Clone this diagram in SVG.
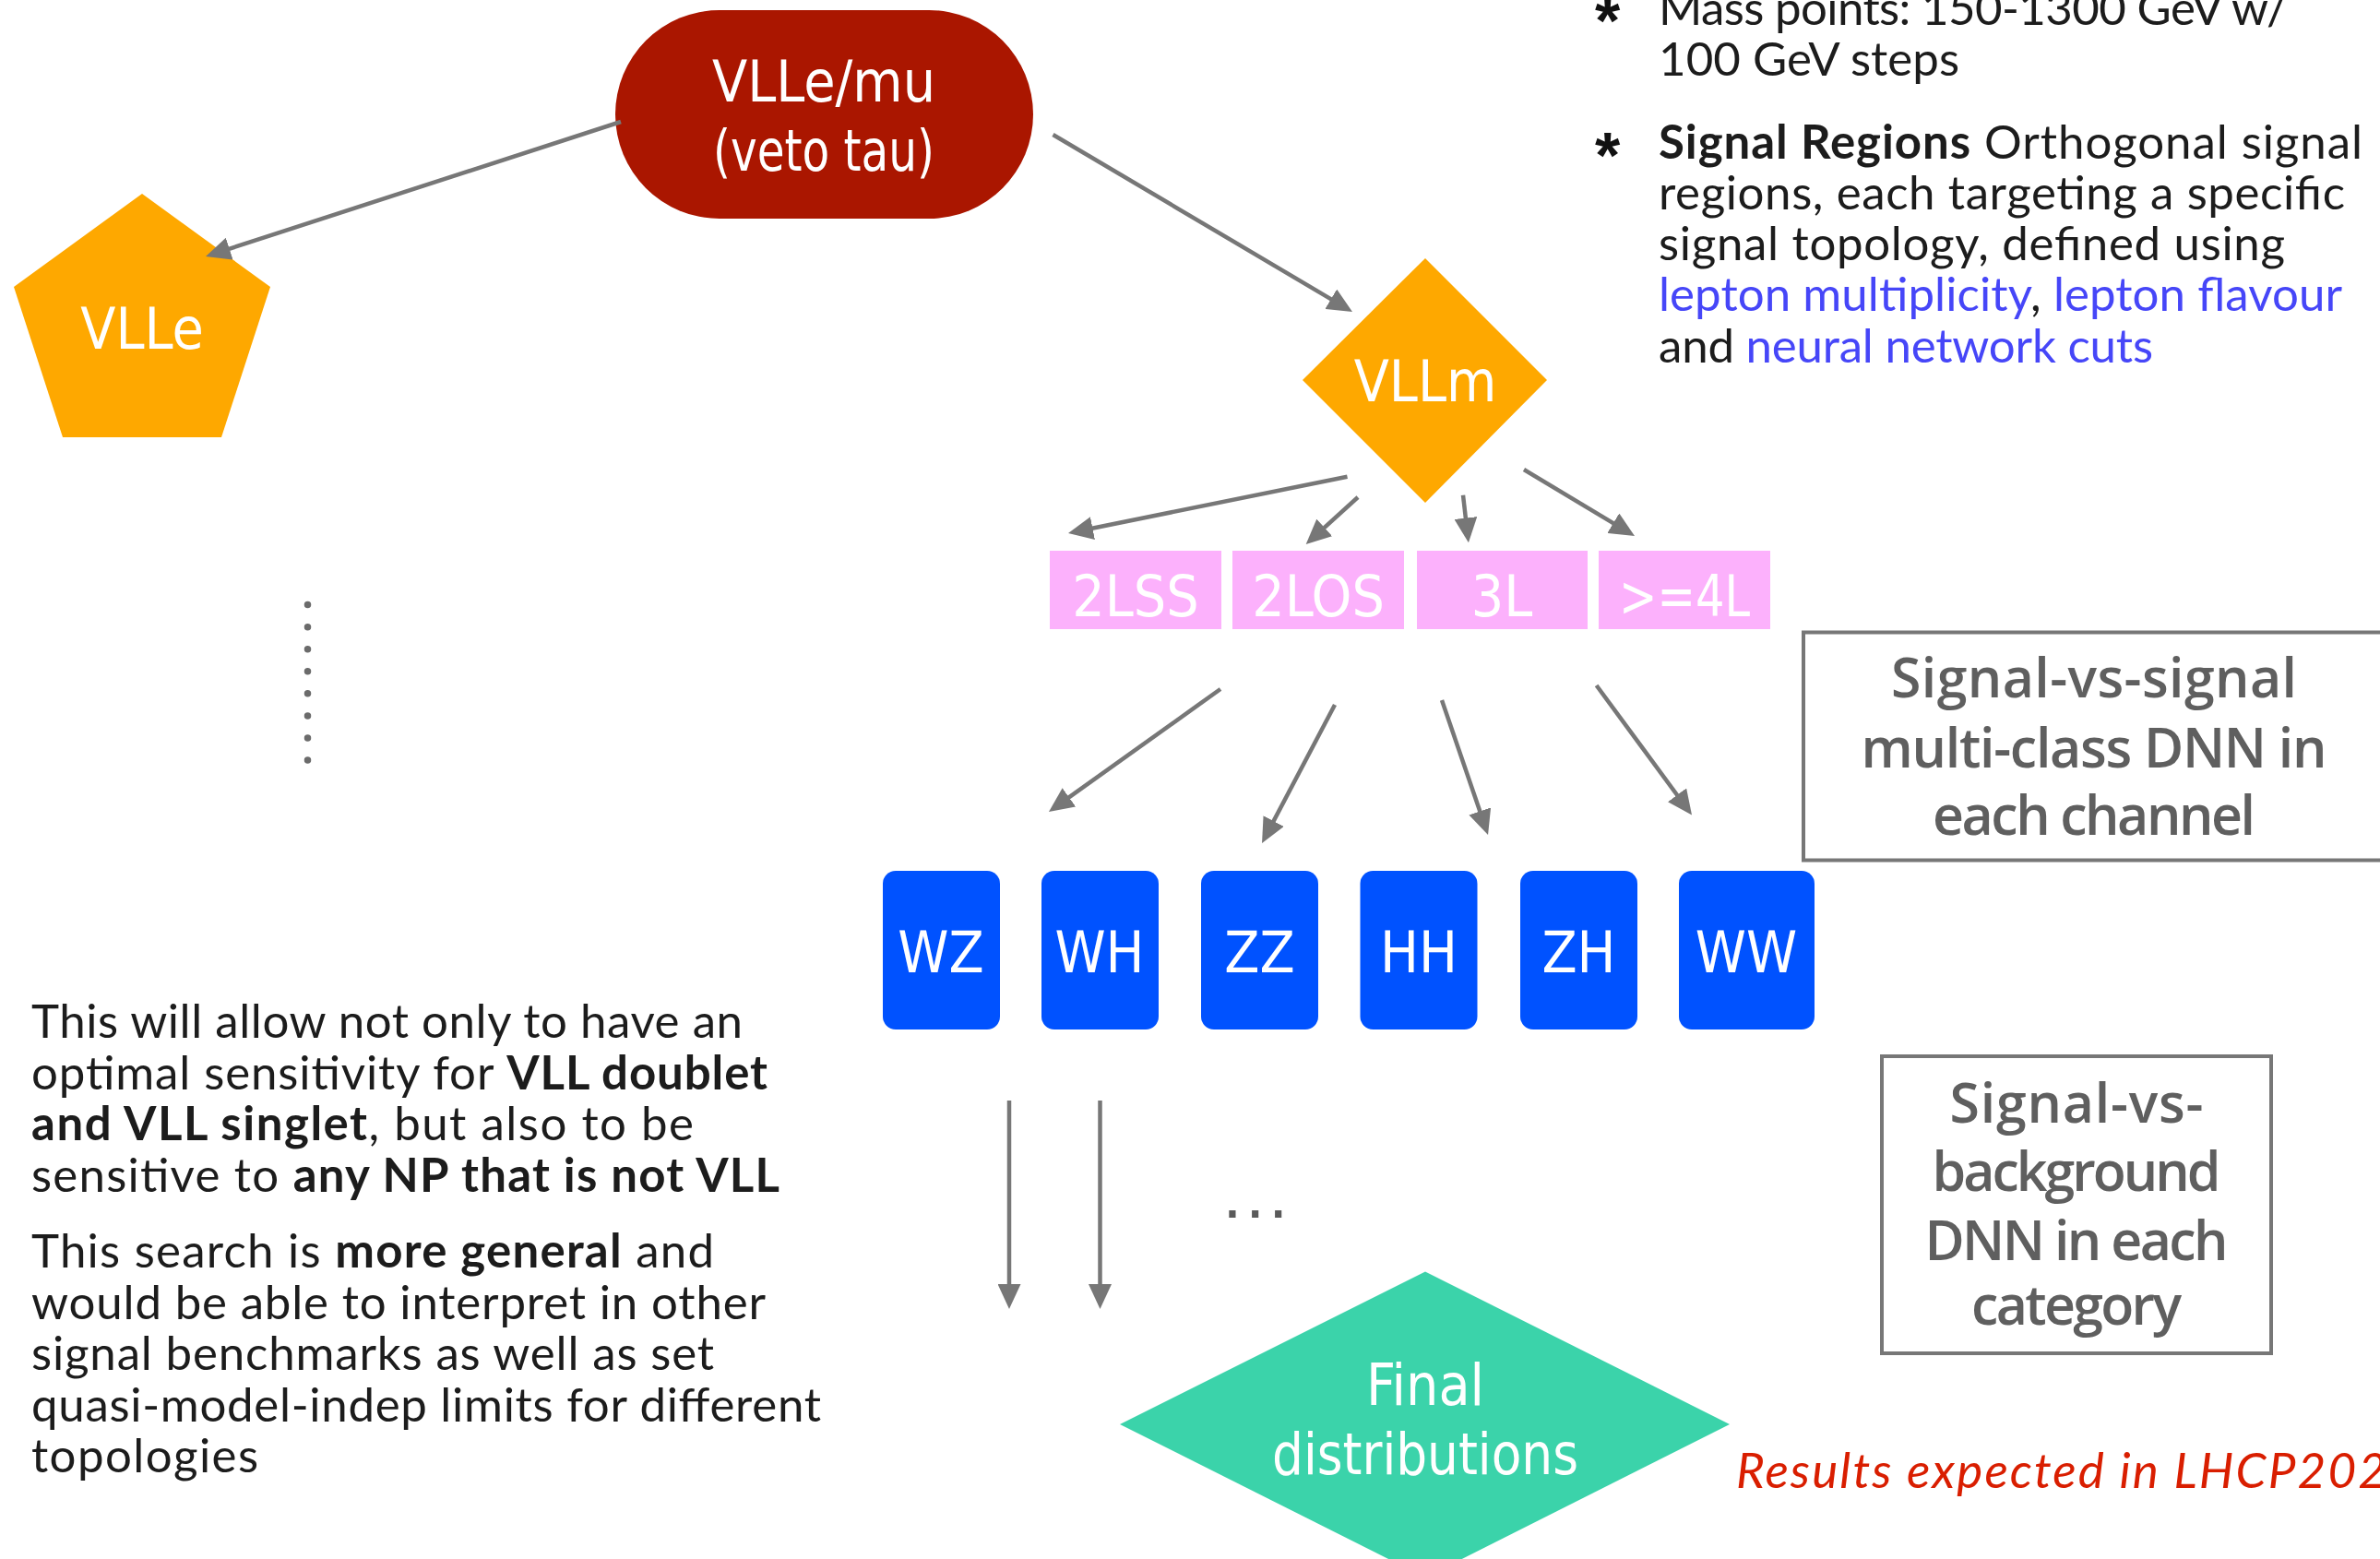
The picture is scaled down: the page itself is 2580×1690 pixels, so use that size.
<svg xmlns="http://www.w3.org/2000/svg" width="2580" height="1690" viewBox="0 0 2580 1690">
<defs>
<marker id="ah" markerUnits="userSpaceOnUse" markerWidth="27" markerHeight="25" viewBox="0 0 27 25" refX="17" refY="12.5" orient="auto">
<path d="M0,0 L27,12.5 L0,25 Z" fill="#777777"/>
</marker>
<style>
.din{font-family:'DejaVu Sans Condensed','DejaVu Sans',sans-serif;font-stretch:condensed;fill:#ffffff;text-anchor:middle;font-size:62px}
.body{font-family:Lato,'Noto Sans',sans-serif;font-size:51px;fill:#1c1c1c}
.b{font-weight:bold}
.blue{fill:#4646F8}
.box{fill:none;stroke:#777777;stroke-width:4}
.boxt{font-family:'Open Sans',sans-serif;font-weight:600;font-size:59px;fill:#5f5f5f;text-anchor:middle}
.pink{fill:#FCB1FC}
.bos{fill:#0052FF}
.con{fill:none;stroke:#777777;stroke-width:4.5;marker-end:url(#ah)}
</style>
</defs>
<rect width="2580" height="1690" fill="#ffffff"/>

<g id="node-vllemu">
<rect x="667" y="11" width="453" height="226" rx="113" fill="#AA1600"/>
<text class="din" x="893" y="110">VLLe/mu</text>
<text class="din" x="893" y="185" textLength="240" lengthAdjust="spacingAndGlyphs">(veto tau)</text>
</g>

<g id="node-vlle">
<polygon points="154,210 293,311 240,474 68,474 15,311" fill="#FEA800"/>
<text class="din" x="154" y="378">VLLe</text>
</g>

<g id="node-vllm">
<polygon points="1545,280 1677,412 1545,545 1412,412" fill="#FEA800"/>
<text class="din" x="1545" y="435">VLLm</text>
</g>

<g id="node-2lss"><rect class="pink" x="1138" y="597" width="186" height="85"/><text class="din" x="1231" y="668">2LSS</text></g>
<g id="node-2los"><rect class="pink" x="1336" y="597" width="186" height="85"/><text class="din" x="1429" y="668">2LOS</text></g>
<g id="node-3l"><rect class="pink" x="1536" y="597" width="185" height="85"/><text class="din" x="1628" y="668">3L</text></g>
<g id="node-4l"><rect class="pink" x="1733" y="597" width="186" height="85"/><text class="din" x="1826" y="668" textLength="142" lengthAdjust="spacingAndGlyphs">&gt;=4L</text></g>

<g id="node-wz"><rect class="bos" x="957" y="944" width="127" height="172" rx="14"/><text class="din" x="1020" y="1054" font-size="60">WZ</text></g>
<g id="node-wh"><rect class="bos" x="1129" y="944" width="127" height="172" rx="14"/><text class="din" x="1192" y="1054" font-size="60">WH</text></g>
<g id="node-zz"><rect class="bos" x="1302" y="944" width="127" height="172" rx="14"/><text class="din" x="1365.5" y="1054" font-size="60">ZZ</text></g>
<g id="node-hh"><rect class="bos" x="1474.5" y="944" width="127" height="172" rx="14"/><text class="din" x="1538" y="1054" font-size="60">HH</text></g>
<g id="node-zh"><rect class="bos" x="1648" y="944" width="127" height="172" rx="14"/><text class="din" x="1711.5" y="1054" font-size="60">ZH</text></g>
<g id="node-ww"><rect class="bos" x="1820" y="944" width="147" height="172" rx="14"/><text class="din" x="1893" y="1054" font-size="60">WW</text></g>

<g id="node-final">
<polygon points="1545,1378.5 1875,1544 1545,1710 1214,1544" fill="#3BD3AA"/>
<text class="din" x="1545" y="1523" font-size="61">Final</text>
<text class="din" x="1545" y="1598" font-size="61" textLength="332" lengthAdjust="spacingAndGlyphs">distributions</text>
</g>

<g id="node-svs">
<rect class="box" x="1955" y="685.5" width="700" height="247"/>
<text class="boxt" x="2270" y="755.5" textLength="440">Signal-vs-signal</text>
<text class="boxt" x="2270" y="831.5" textLength="505">multi-class DNN in</text>
<text class="boxt" x="2270" y="905" textLength="350">each channel</text>
</g>

<g id="node-svb">
<rect class="box" x="2040" y="1145" width="422" height="322"/>
<text class="boxt" x="2251" y="1216.5" textLength="275">Signal-vs-</text>
<text class="boxt" x="2251" y="1291" textLength="313">background</text>
<text class="boxt" x="2251" y="1365.5" textLength="329">DNN in each</text>
<text class="boxt" x="2251" y="1436" textLength="228">category</text>
</g>

<g id="connectors">
<line class="con" x1="673" y1="132" x2="232.5" y2="274.9"/>
<line class="con" x1="1141.5" y1="146" x2="1457.4" y2="332.9"/>
<line class="con" x1="1460.5" y1="516.7" x2="1167.8" y2="576"/>
<line class="con" x1="1472" y1="539" x2="1423.1" y2="583.3"/>
<line class="con" x1="1586" y1="536.7" x2="1590.8" y2="578.4"/>
<line class="con" x1="1652" y1="509" x2="1763.4" y2="575.9"/>
<line class="con" x1="1323" y1="747" x2="1145.1" y2="874.2"/>
<line class="con" x1="1447" y1="764" x2="1372.7" y2="905.1"/>
<line class="con" x1="1563" y1="759" x2="1609.8" y2="895.5"/>
<line class="con" x1="1730.6" y1="743" x2="1828.1" y2="875.5"/>
<line class="con" x1="1094" y1="1193" x2="1094" y2="1409"/>
<line class="con" x1="1192.5" y1="1193" x2="1192.5" y2="1409"/>
</g>

<line x1="333.5" y1="655.6" x2="333.5" y2="824.5" stroke="#6b6b6b" stroke-width="7.5" stroke-linecap="round" stroke-dasharray="0 24.06"/>
<text x="1325.5" y="1320" font-family="'Liberation Sans',sans-serif" font-size="75" letter-spacing="4" fill="#5a5a5a">...</text>

<g id="notes-right">
<text x="1729" y="46.7" font-family="'Liberation Sans',sans-serif" font-weight="bold" font-size="70" fill="#111">*</text>
<text x="1729" y="193" font-family="'Liberation Sans',sans-serif" font-weight="bold" font-size="70" fill="#111">*</text>
<text class="body" x="1798" y="26.7" textLength="682">Mass points: 150-1300 GeV w/</text>
<text class="body" x="1798" y="81.7" textLength="326">100 GeV steps</text>
<text class="body" x="1798" y="171.7" textLength="763"><tspan class="b">Signal Regions</tspan> Orthogonal signal</text>
<text class="body" x="1798" y="226.7" textLength="744">regions, each targeting a specific</text>
<text class="body" x="1798" y="281.7" textLength="679">signal topology, defined using</text>
<text class="body" x="1798" y="337" textLength="741"><tspan class="blue">lepton multiplicity</tspan>, <tspan class="blue">lepton flavour</tspan></text>
<text class="body" x="1798" y="392.7" textLength="536">and <tspan class="blue">neural network cuts</tspan></text>
</g>

<g id="notes-left">
<text class="body" x="34" y="1125" textLength="771">This will allow not only to have an</text>
<text class="body" x="34" y="1180.5" textLength="798">optimal sensitivity for <tspan class="b">VLL doublet</tspan></text>
<text class="body" x="34" y="1236" textLength="718"><tspan class="b">and VLL singlet</tspan>, but also to be</text>
<text class="body" x="34" y="1291.5" textLength="811">sensitive to <tspan class="b">any NP that is not VLL</tspan></text>
<text class="body" x="34" y="1374" textLength="740">This search is <tspan class="b">more general</tspan> and</text>
<text class="body" x="34" y="1429.5" textLength="796">would be able to interpret in other</text>
<text class="body" x="34" y="1485" textLength="740">signal benchmarks as well as set</text>
<text class="body" x="34" y="1540.5" textLength="856">quasi-model-indep limits for different</text>
<text class="body" x="34" y="1596" textLength="246">topologies</text>
</g>

<text x="1882" y="1612.5" font-family="Lato,'Noto Sans',sans-serif" font-style="italic" font-size="53" fill="#D91E00" textLength="705">Results expected in LHCP202</text>
</svg>
